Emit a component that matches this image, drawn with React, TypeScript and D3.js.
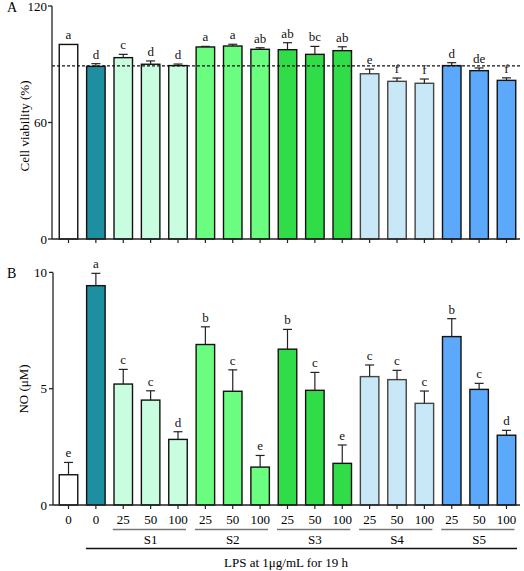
import React from "react";
import * as d3 from "d3";

const doseLabels = ["0", "0", "25", "50", "100", "25", "50", "100", "25", "50", "100", "25", "50", "100", "25", "50", "100"];
const groupOf = ["ctrl", "lps", "S1", "S1", "S1", "S2", "S2", "S2", "S3", "S3", "S3", "S4", "S4", "S4", "S5", "S5", "S5"];
const groupNames = ["S1", "S2", "S3", "S4", "S5"];

const viability = [100.2, 88.9, 93.4, 90.0, 89.3, 98.9, 99.4, 97.7, 97.5, 95.1, 97.0, 85.1, 81.2, 80.2, 89.3, 86.7, 81.7];
const viabilityErr = [0, 1.4, 1.7, 1.7, 0.8, 0.3, 0.9, 0.8, 3.6, 4.1, 2.0, 2.4, 1.7, 2.2, 1.5, 1.4, 1.3];
const viabilityLetters = ["a", "d", "c", "d", "d", "a", "a", "ab", "ab", "bc", "ab", "e", "f", "f", "d", "de", "f"];
const lpsReference = 89.2;

const no = [1.3, 9.43, 5.2, 4.51, 2.82, 6.9, 4.89, 1.63, 6.7, 4.93, 1.79, 5.52, 5.39, 4.37, 7.24, 4.97, 3.0];
const noErr = [0.53, 0.53, 0.63, 0.4, 0.33, 0.76, 0.92, 0.5, 0.85, 0.77, 0.79, 0.5, 0.4, 0.53, 0.77, 0.26, 0.21];
const noLetters = ["e", "a", "c", "c", "d", "b", "c", "e", "b", "c", "e", "c", "c", "c", "b", "c", "d"];

const viabilityTicks = [0, 60, 120];
const noTicks = [0, 5, 10];

const colors: Record<string, string> = {
  ctrl: "#ffffff",
  lps: "#1e8fa0",
  S1: "#c8fde0",
  S2: "#6bfd7f",
  S3: "#30dd48",
  S4: "#c8e8f8",
  S5: "#5ca8fa",
};

const FONT = "'Liberation Serif', 'Times New Roman', serif";

export default function App() {
  const W = 524, H = 571;
  const idx = doseLabels.map((_, i) => i);
  const x = d3.scalePoint<number>().domain(idx).range([68.5, 506.5]);
  const bw = 18.5;
  const capW = 9;

  const yA = d3.scaleLinear().domain([0, 120]).range([239, 6]);
  const yB = d3.scaleLinear().domain([0, 10]).range([505, 272.4]);

  const axisXA = 52;
  const axisXB = 53;
  const xEnd = 520;

  const panel = (
    y: d3.ScaleLinear<number, number>,
    vals: number[],
    errs: number[],
    letters: string[],
    key: string
  ) => (
    <g key={key}>
      {idx.map((i) => {
        const cx = x(i)!;
        const top = y(vals[i]);
        const capY = y(vals[i] + errs[i]);
        const g = groupOf[i];
        return (
          <g key={i}>
            <rect
              x={cx - bw / 2}
              y={top}
              width={bw}
              height={y(0) - top}
              fill={colors[g]}
              stroke={g === "S4" ? "#444" : "#111"}
              strokeWidth={1.4}
            />
            {errs[i] > 0 && (
              <g stroke="#222" strokeWidth={1.2}>
                <line x1={cx} x2={cx} y1={top} y2={capY} />
                <line x1={cx - capW / 2} x2={cx + capW / 2} y1={capY} y2={capY} />
              </g>
            )}
            <text
              x={cx}
              y={Math.min(top, capY) - 5}
              textAnchor="middle"
              fontSize={13}
              fontFamily={FONT}
              fill="#111"
            >
              {letters[i]}
            </text>
          </g>
        );
      })}
    </g>
  );

  const groups = groupNames.map((name) => {
    const members = idx.filter((i) => groupOf[i] === name);
    const first = x(members[0])!;
    const last = x(members[members.length - 1])!;
    return { name, x1: first - 10.5, x2: last + 8, cx: (first + last) / 2 };
  });

  return (
    <svg width={W} height={H} style={{ position: "absolute", left: 0, top: 0, background: "#fff" }}>
      {/* Panel A */}
      <text x={7} y={12} fontSize={14} fontFamily={FONT}>A</text>
      {panel(yA, viability, viabilityErr, viabilityLetters, "A")}
      <line x1={axisXA} x2={xEnd} y1={yA(lpsReference)} y2={yA(lpsReference)} stroke="#111" strokeWidth={1.3} strokeDasharray="3,2" />
      <line x1={axisXA} x2={axisXA} y1={yA(120)} y2={yA(0)} stroke="#222" strokeWidth={1.3} />
      {viabilityTicks.map((t) => (
        <g key={t}>
          <line x1={axisXA - 4} x2={axisXA} y1={yA(t)} y2={yA(t)} stroke="#222" strokeWidth={1.3} />
          <text x={axisXA - 5} y={yA(t) + 4.5} textAnchor="end" fontSize={13} fontFamily={FONT}>{t}</text>
        </g>
      ))}
      <line x1={axisXA} x2={xEnd} y1={yA(0)} y2={yA(0)} stroke="#222" strokeWidth={1.3} />
      {idx.map((i) => (
        <line key={i} x1={x(i)!} x2={x(i)!} y1={yA(0)} y2={yA(0) + 4} stroke="#222" strokeWidth={1.2} />
      ))}
      <text transform={`translate(29,126) rotate(-90)`} textAnchor="middle" fontSize={13} fontFamily={FONT}>
        Cell viability (%)
      </text>

      {/* Panel B */}
      <text x={7} y={278} fontSize={14} fontFamily={FONT}>B</text>
      {panel(yB, no, noErr, noLetters, "B")}
      <line x1={axisXB} x2={axisXB} y1={yB(10)} y2={yB(0)} stroke="#222" strokeWidth={1.3} />
      {noTicks.map((t) => (
        <g key={t}>
          <line x1={axisXB - 4} x2={axisXB} y1={yB(t)} y2={yB(t)} stroke="#222" strokeWidth={1.3} />
          <text x={axisXB - 6} y={yB(t) + 4.5} textAnchor="end" fontSize={13} fontFamily={FONT}>{t}</text>
        </g>
      ))}
      <line x1={axisXB} x2={xEnd} y1={yB(0)} y2={yB(0)} stroke="#222" strokeWidth={1.3} />
      {idx.map((i) => (
        <g key={i}>
          <line x1={x(i)!} x2={x(i)!} y1={yB(0)} y2={yB(0) + 4} stroke="#222" strokeWidth={1.2} />
          <text x={x(i)!} y={524} textAnchor="middle" fontSize={13} fontFamily={FONT}>{doseLabels[i]}</text>
        </g>
      ))}
      <text transform={`translate(28,389) rotate(-90)`} textAnchor="middle" fontSize={13} fontFamily={FONT}>
        NO (μM)
      </text>
      {groups.map((g) => (
        <g key={g.name}>
          <line x1={g.x1} x2={g.x2} y1={529.5} y2={529.5} stroke="#777" strokeWidth={1.6} />
          <text x={g.cx} y={543.5} textAnchor="middle" fontSize={13} fontFamily={FONT}>{g.name}</text>
        </g>
      ))}
      <line x1={x(1)! - 10} x2={517} y1={548.5} y2={548.5} stroke="#111" strokeWidth={1.3} />
      <text x={286} y={566.5} textAnchor="middle" fontSize={13} fontFamily={FONT}>
        LPS at 1μg/mL for 19 h
      </text>
    </svg>
  );
}
